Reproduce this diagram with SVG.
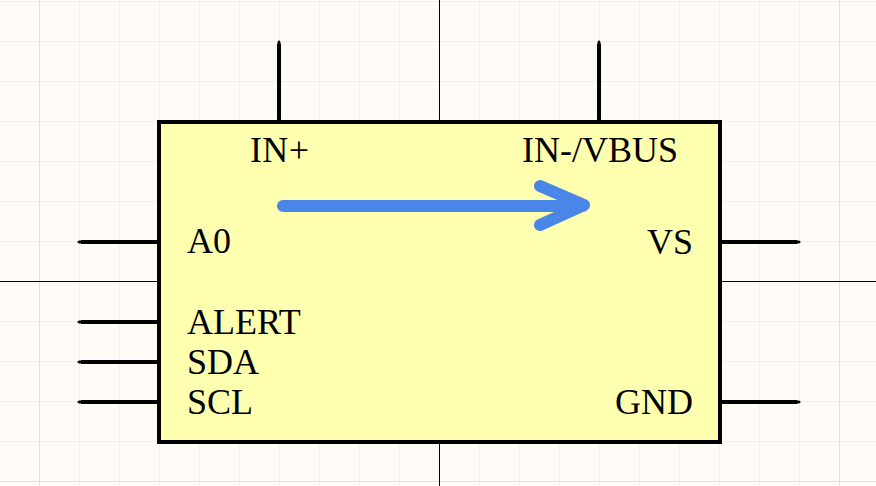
<svg xmlns="http://www.w3.org/2000/svg" width="876" height="486" viewBox="0 0 876 486">
<defs>
<style>
.g{stroke:#f3f0eb;stroke-width:1;fill:none}
.m{stroke:#e4e1dc;stroke-width:1;fill:none}
.a{stroke:#000;stroke-width:1;fill:none}
.p{stroke:#000;stroke-width:4;fill:none}
.t{font-family:"Liberation Serif","Times New Roman",serif;font-size:36px;fill:#000}
</style>
<pattern id="grid" width="40" height="40" patternUnits="userSpaceOnUse" x="-1" y="1">
<path d="M.5 0V40M0 .5H40" class="g"/>
</pattern>
</defs>
<rect width="876" height="486" fill="#fffcf8"/>
<rect width="876" height="486" fill="url(#grid)"/>
<path class="m" d="M39.500 0V486M839.500 0V486M0 481.500H876"/>
<path class="a" d="M439.500 0V122M439.500 442V486M0 281.500H159M720 281.500H876"/>
<g id="connectors">
<path class="p" d="M279 122V44M599 122V44M159 242H81M159 322H81M159 362H81M159 402H81M720 242H797M720 402H797"/>
<path d="M279 40l1.500 2v2h-3v-2zM599 40l1.500 2v2h-3v-2zM77 242l2-1.500h2v3h-2zM77 322l2-1.500h2v3h-2zM77 362l2-1.500h2v3h-2zM77 402l2-1.500h2v3h-2zM801 242l-2-1.500h-2v3h2zM801 402l-2-1.500h-2v3h2z" fill="#000"/>
</g>
<g id="body">
<rect x="159" y="122" width="561" height="320" fill="#ffffb0" stroke="#000" stroke-width="4"/>
</g>
<g id="arrow">
<path d="M283 206H583M540 186L584 205L540 225" fill="none" stroke="#4a86e8" stroke-width="12" stroke-linecap="round" stroke-linejoin="round"/>
</g>
<g id="labels">
<text class="t" x="250" y="162" textLength="59">IN+</text>
<text class="t" x="522" y="162">IN-/VBUS</text>
<text class="t" x="187" y="253">A0</text>
<text class="t" x="693" y="254" text-anchor="end">VS</text>
<text class="t" x="187" y="334">ALERT</text>
<text class="t" x="187" y="374">SDA</text>
<text class="t" x="187" y="414" textLength="66">SCL</text>
<text class="t" x="693" y="414" text-anchor="end">GND</text>
</g>
</svg>
